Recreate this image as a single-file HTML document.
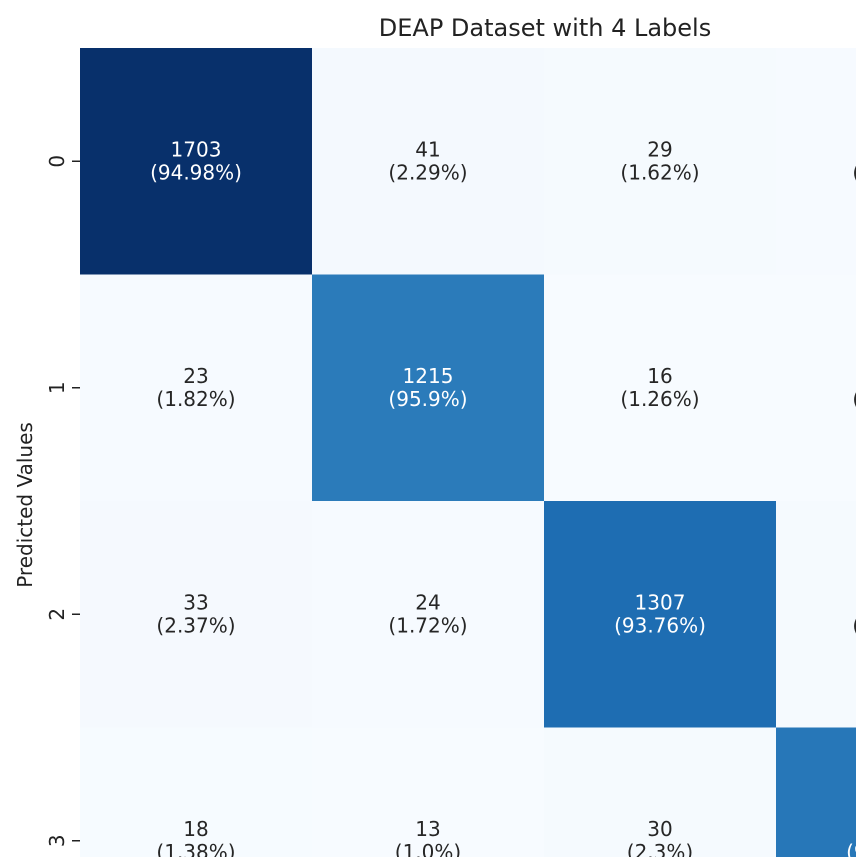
<!DOCTYPE html>
<html><head><meta charset="utf-8"><style>
body{margin:0;background:#fff;overflow:hidden;}
svg{display:block;font-family:"DejaVu Sans","Liberation Sans",sans-serif;}
</style></head><body>
<svg id="c" width="856" height="857">
<text x="545" y="36" font-size="24" text-anchor="middle" fill="#222">DEAP Dataset with 4 Labels</text>
<text transform="translate(32,505) rotate(-90)" font-size="20" text-anchor="middle" fill="#222">Predicted Values</text>
<g id="cells"></g>
</svg>
<script>
const rowLabels=["0","1","2","3"];
const counts=[[1703,41,29,20],[23,1215,16,13],[33,24,1307,30],[18,13,30,1243]];
const pcts=["94.98%","2.29%","1.62%","1.12%","1.82%","95.9%","1.26%","1.03%","2.37%","1.72%","93.76%","2.15%","1.38%","1.0%","2.3%","95.32%"];
const x0=80,y0=48,cw=232,ch=226.5;
const stops=["#f7fbff","#deebf7","#c6dbef","#9ecae1","#6baed6","#4292c6","#2171b5","#08519c","#08306b"];
function hx(h){return [1,3,5].map(i=>parseInt(h.substr(i,2),16));}
function blues(t){t=Math.max(0,Math.min(1,t));const s=t*8,i=Math.min(7,Math.floor(s)),f=s-i;const a=hx(stops[i]),b=hx(stops[i+1]);return "rgb("+a.map((v,k)=>Math.round(v+(b[k]-v)*f)).join(",")+")";}
const flat=counts.flat(),vmin=Math.min(...flat),vmax=Math.max(...flat);
const g=document.getElementById('cells'),svg=document.getElementById('c');
const NS="http://www.w3.org/2000/svg";
counts.forEach((row,r)=>{
 row.forEach((v,c)=>{
  const t=(v-vmin)/(vmax-vmin);
  const rect=document.createElementNS(NS,'rect');
  rect.setAttribute('x',x0+c*cw);rect.setAttribute('y',y0+r*ch);
  rect.setAttribute('width',cw+0.5);rect.setAttribute('height',ch+0.5);
  rect.setAttribute('fill',blues(t));
  
  
  g.appendChild(rect);
  const cx=x0+c*cw+cw/2,cy=y0+r*ch+ch/2;
  const col=t>0.5?"#ffffff":"#262626";
  const t1=document.createElementNS(NS,'text');
  t1.setAttribute('x',cx);t1.setAttribute('y',cy-5);t1.setAttribute('font-size','20');t1.setAttribute('text-anchor','middle');t1.setAttribute('fill',col);
  t1.textContent=v;
  
  
  g.appendChild(t1);
  const t2=document.createElementNS(NS,'text');
  t2.setAttribute('x',cx);t2.setAttribute('y',cy+18);t2.setAttribute('font-size','20');t2.setAttribute('text-anchor','middle');t2.setAttribute('fill',col);
  t2.textContent="("+pcts[r*4+c]+")";
  
  
  g.appendChild(t2);
 });
 const cy=y0+r*ch+ch/2;
 const tk=document.createElementNS(NS,'line');
 tk.setAttribute('x1',72);tk.setAttribute('x2',80);tk.setAttribute('y1',cy);tk.setAttribute('y2',cy);tk.setAttribute('stroke','#222');tk.setAttribute('stroke-width','1.5');
 
 
 svg.appendChild(tk);
 const lb=document.createElementNS(NS,'text');
 lb.setAttribute('transform','translate(64,'+cy+') rotate(-90)');lb.setAttribute('font-size','20');lb.setAttribute('text-anchor','middle');lb.setAttribute('fill','#222');
 lb.textContent=rowLabels[r];
 
 
 svg.appendChild(lb);
});
</script>
</body></html>
